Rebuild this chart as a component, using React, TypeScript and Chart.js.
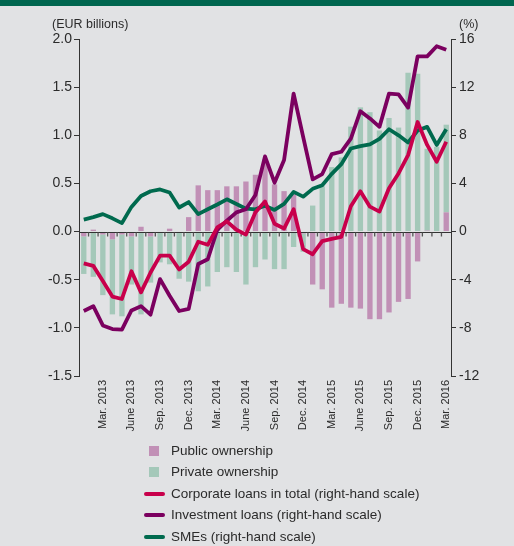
import React, { useEffect, useRef } from "react";
import { Chart, registerables } from "chart.js";

Chart.register(...registerables);

const categories: string[] = [
  "Jan. 2013", "Feb. 2013", "Mar. 2013", "Apr. 2013", "May 2013", "June 2013",
  "July 2013", "Aug. 2013", "Sep. 2013", "Oct. 2013", "Nov. 2013", "Dec. 2013",
  "Jan. 2014", "Feb. 2014", "Mar. 2014", "Apr. 2014", "May 2014", "June 2014",
  "July 2014", "Aug. 2014", "Sep. 2014", "Oct. 2014", "Nov. 2014", "Dec. 2014",
  "Jan. 2015", "Feb. 2015", "Mar. 2015", "Apr. 2015", "May 2015", "June 2015",
  "July 2015", "Aug. 2015", "Sep. 2015", "Oct. 2015", "Nov. 2015", "Dec. 2015",
  "Jan. 2016", "Feb. 2016", "Mar. 2016",
];

// EUR billions (left-hand scale)
const publicOwnership: number[] = [
  -0.05, 0.02, -0.03, -0.08, -0.03, -0.05, 0.05, -0.05, -0.01, 0.03, -0.01, 0.15,
  0.48, 0.43, 0.43, 0.47, 0.47, 0.52, 0.59, 0.75, 0.49, 0.42, 0.39, -0.02,
  -0.55, -0.6, -0.79, -0.75, -0.79, -0.8, -0.91, -0.91, -0.84, -0.73, -0.7, -0.31,
  0.01, 0.0, 0.2,
];
const privateOwnership: number[] = [
  -0.39, -0.47, -0.63, -0.78, -0.85, -0.5, -0.86, -0.48, -0.31, -0.34, -0.48, -0.52,
  -0.62, -0.57, -0.42, -0.37, -0.42, -0.55, -0.37, -0.29, -0.39, -0.39, -0.16, -0.19,
  0.27, 0.47, 0.67, 0.77, 1.09, 1.29, 1.24, 1.05, 1.18, 1.08, 1.65, 1.64,
  0.85, 0.88, 0.91,
];

// % (right-hand scale)
const corporateLoans: number[] = [
  -2.65, -2.85, -4.1, -5.4, -5.6, -3.3, -5.05, -3.4, -2.0, -2.0, -3.15, -2.5,
  -0.85, -1.1, 0.35, 0.85, 0.15, -0.25, 1.6, 2.5, 0.65, 0.25, 1.85, -1.46,
  -1.88, -0.8, -0.6, -0.45, 2.1, 3.35, 2.07, 1.66, 3.6, 4.83, 6.35, 9.1,
  7.2, 5.8, 7.46,
];
const investmentLoans: number[] = [
  -6.6, -6.2, -7.8, -8.1, -8.15, -6.55, -6.2, -6.9, -3.95, -5.33, -6.6, -6.43,
  -2.7, -2.3, 0.15, 0.9, 1.6, 1.85, 3.04, 6.25, 4.06, 5.94, 11.46, 7.87,
  4.34, 4.78, 6.44, 6.63, 7.73, 10.0, 9.4, 8.7, 11.46, 11.4, 10.3, 14.56,
  14.56, 15.4, 15.1,
];
const smes: number[] = [
  1.0, 1.2, 1.45, 1.1, 0.7, 2.05, 2.95, 3.35, 3.5, 3.25, 2.0, 2.45,
  1.45, 1.85, 2.25, 2.68, 2.29, 1.9, 1.85, 2.15, 1.8, 2.3, 3.3, 2.9,
  3.55, 3.85, 4.8, 5.6, 6.9, 7.1, 7.25, 7.7, 8.5, 8.0, 7.4, 8.4,
  8.7, 7.2, 8.5,
];

const FONT = "'Liberation Sans', Arial, sans-serif";
const TEXT = "#2b2b2b";
const BG = "#e1e2e4";
const PINK = "#c190b6";
const LIGHTGREEN = "#a4c8b9";
const RED = "#c8004b";
const PURPLE = "#7b005f";
const DARKGREEN = "#006a4e";

const legendItems = [
  { label: "Public ownership", color: PINK, kind: "box" },
  { label: "Private ownership", color: LIGHTGREEN, kind: "box" },
  { label: "Corporate loans in total (right-hand scale)", color: RED, kind: "line" },
  { label: "Investment loans (right-hand scale)", color: PURPLE, kind: "line" },
  { label: "SMEs (right-hand scale)", color: DARKGREEN, kind: "line" },
];

const decorPlugin = {
  id: "decor",
  afterDatasetDraw(chart: any, args: any) {
    if (args.index !== 0) return;
    const { ctx, chartArea, scales } = chart;
    const y0 = Math.round(scales.y.getPixelForValue(0)) + 0.5;
    ctx.save();
    ctx.strokeStyle = "#333";
    ctx.lineWidth = 1;
    ctx.beginPath();
    ctx.moveTo(chartArea.left, y0);
    ctx.lineTo(chartArea.right, y0);
    ctx.stroke();
    const n = categories.length;
    ctx.strokeStyle = "#555";
    ctx.lineWidth = 1.3;
    ctx.beginPath();
    for (let k = 1; k < n; k++) {
      const x = (scales.x.getPixelForValue(k - 1) + scales.x.getPixelForValue(k)) / 2;
      ctx.moveTo(x, y0);
      ctx.lineTo(x, y0 + 4);
    }
    ctx.stroke();
    ctx.restore();
  },
  afterDraw(chart: any) {
    const { ctx } = chart;
    ctx.save();
    ctx.fillStyle = TEXT;
    ctx.font = `12.5px ${FONT}`;
    ctx.textBaseline = "middle";
    ctx.textAlign = "left";
    ctx.fillText("(EUR billions)", 52, 25);
    ctx.fillText("(%)", 459, 25);
    ctx.restore();
  },
};

function ChartCanvas() {
  const ref = useRef<HTMLCanvasElement | null>(null);
  useEffect(() => {
    if (!ref.current) return;
    const chart = new Chart(ref.current, {
      type: "bar",
      data: {
        labels: categories,
        datasets: [
          {
            type: "bar",
            label: "Public ownership",
            data: publicOwnership,
            backgroundColor: PINK,
            yAxisID: "y",
            stack: "s",
            order: 1,
            barPercentage: 0.56,
            categoryPercentage: 1,
          },
          {
            type: "bar",
            label: "Private ownership",
            data: privateOwnership,
            backgroundColor: LIGHTGREEN,
            yAxisID: "y",
            stack: "s",
            order: 1,
            barPercentage: 0.56,
            categoryPercentage: 1,
          },
          {
            type: "line",
            label: "Corporate loans in total (right-hand scale)",
            data: corporateLoans,
            borderColor: RED,
            backgroundColor: RED,
            borderWidth: 3.8,
            pointRadius: 0,
            tension: 0,
            yAxisID: "y1",
            order: 0,
            borderJoinStyle: "round",
          },
          {
            type: "line",
            label: "Investment loans (right-hand scale)",
            data: investmentLoans,
            borderColor: PURPLE,
            backgroundColor: PURPLE,
            borderWidth: 3.8,
            pointRadius: 0,
            tension: 0,
            yAxisID: "y1",
            order: 0,
            borderJoinStyle: "round",
          },
          {
            type: "line",
            label: "SMEs (right-hand scale)",
            data: smes,
            borderColor: DARKGREEN,
            backgroundColor: DARKGREEN,
            borderWidth: 3.8,
            pointRadius: 0,
            tension: 0,
            yAxisID: "y1",
            order: 0,
            borderJoinStyle: "round",
          },
        ],
      } as any,
      options: {
        animation: false,
        responsive: false,
        devicePixelRatio: 1,
        layout: { padding: { left: 29, right: 23, top: 39, bottom: 100 } },
        plugins: { legend: { display: false }, tooltip: { enabled: false } },
        scales: {
          x: {
            type: "category",
            stacked: true,
            offset: true,
            grid: { display: false },
            border: { display: false },
            ticks: {
              autoSkip: false,
              minRotation: 90,
              maxRotation: 90,
              padding: -4,
              color: TEXT,
              font: { family: FONT, size: 11 },
              callback: (_v: any, i: number) => (i % 3 === 2 ? categories[i] : ""),
            },
            afterFit: (s: any) => {
              s.height = 70;
            },
          },
          y: {
            position: "left",
            stacked: true,
            min: -1.5,
            max: 2,
            ticks: {
              stepSize: 0.5,
              padding: 2,
              color: TEXT,
              font: { family: FONT, size: 14 },
              callback: (v: any) => Number(v).toFixed(1),
            },
            grid: {
              display: true,
              drawOnChartArea: false,
              drawTicks: true,
              tickLength: 5,
              color: "#333",
              lineWidth: 1,
            },
            border: { display: true, color: "#333", width: 1 },
            afterFit: (s: any) => {
              s.width = 50;
            },
          },
          y1: {
            position: "right",
            min: -12,
            max: 16,
            ticks: {
              stepSize: 4,
              padding: 3,
              color: TEXT,
              font: { family: FONT, size: 14 },
              callback: (v: any) => String(v),
            },
            grid: {
              display: true,
              drawOnChartArea: false,
              drawTicks: true,
              tickLength: 5,
              color: "#333",
              lineWidth: 1,
            },
            border: { display: true, color: "#333", width: 1 },
            afterFit: (s: any) => {
              s.width = 40;
            },
          },
        },
      } as any,
      plugins: [decorPlugin],
    });
    return () => chart.destroy();
  }, []);
  return <canvas ref={ref} width={514} height={546} style={{ width: 514, height: 546, display: "block" }} />;
}

export default function App() {
  const rowCenters = [451, 472, 493.5, 515, 536.5];
  return (
    <div
      style={{
        position: "fixed",
        left: 0,
        top: 0,
        width: 514,
        height: 546,
        background: BG,
        overflow: "hidden",
        fontFamily: FONT,
      }}
    >
      <div style={{ position: "absolute", left: 0, top: 0, width: 514, height: 6, background: "#00664f" }} />
      <ChartCanvas />
      {legendItems.map((it, i) => (
        <div key={it.label}>
          {it.kind === "box" ? (
            <div
              style={{
                position: "absolute",
                left: 149,
                top: rowCenters[i] - 5,
                width: 10,
                height: 10,
                background: it.color,
              }}
            />
          ) : (
            <div
              style={{
                position: "absolute",
                left: 144,
                top: rowCenters[i] - 2,
                width: 21,
                height: 4,
                borderRadius: 2,
                background: it.color,
              }}
            />
          )}
          <div
            style={{
              position: "absolute",
              left: 171,
              top: rowCenters[i] - 10,
              height: 20,
              lineHeight: "20px",
              fontSize: 13.5,
              color: TEXT,
              whiteSpace: "nowrap",
            }}
          >
            {it.label}
          </div>
        </div>
      ))}
    </div>
  );
}
